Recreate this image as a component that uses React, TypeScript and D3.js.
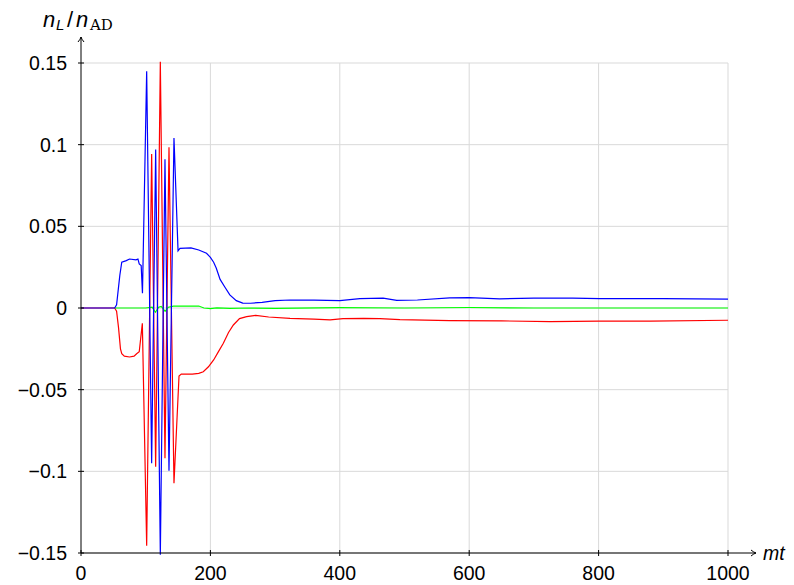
import React from "react";
import * as d3 from "d3";

const xTicks = [0, 200, 400, 600, 800, 1000];
const yTicks = [-0.15, -0.1, -0.05, 0, 0.05, 0.1, 0.15];

const blueT = [0, 52, 55, 60, 63, 70, 75, 85, 88, 90, 93, 95, 101.5, 109.2, 115.4, 122.6, 129.8, 136, 143.7, 150, 153, 170, 182, 194, 200, 205, 209, 212, 215, 222, 230, 240, 250, 262, 280, 300, 323, 360, 400, 431, 467, 488, 520, 570, 600, 647, 700, 760, 802, 900, 1000];
const blueV = [0, 0, 0.002, 0.02, 0.028, 0.029, 0.03, 0.0295, 0.03, 0.027, 0.026, 0.009, 0.145, -0.095, 0.097, -0.151, 0.091, -0.0996, 0.104, 0.035, 0.0365, 0.0368, 0.0355, 0.0335, 0.031, 0.028, 0.0245, 0.021, 0.0175, 0.013, 0.008, 0.0045, 0.003, 0.0029, 0.0035, 0.0045, 0.0049, 0.0048, 0.0045, 0.0057, 0.006, 0.0047, 0.0049, 0.0062, 0.0063, 0.0056, 0.0061, 0.006, 0.0058, 0.0057, 0.0054];

const redT = [0, 52, 55, 58, 61, 63, 67, 75, 82, 86, 90, 94.8, 101.5, 109.2, 115.4, 122.6, 129.8, 136, 143.7, 151.5, 155, 172, 182, 189, 197, 205, 212, 220, 228, 235.5, 245, 256, 270, 290, 323, 360, 385, 405, 437, 462, 493, 570, 650, 725, 800, 880, 1000];
const redV = [0, 0, -0.002, -0.012, -0.025, -0.028, -0.0295, -0.03, -0.0295, -0.028, -0.0268, -0.0094, -0.1455, 0.0943, -0.0972, 0.1508, -0.092, 0.0984, -0.1073, -0.0416, -0.0405, -0.0405, -0.04, -0.039, -0.036, -0.0318, -0.027, -0.0216, -0.015, -0.0104, -0.0065, -0.0053, -0.0045, -0.0055, -0.0063, -0.0068, -0.0073, -0.0065, -0.0063, -0.0065, -0.0071, -0.0077, -0.0079, -0.0083, -0.008, -0.008, -0.0075];

const greenT = [52, 100, 110, 115, 120, 124, 130, 135, 143, 150, 170, 182, 190, 200, 210, 230, 260, 300, 400, 500, 600, 700, 1000];
const greenV = [0, 0, 0.0005, -0.0026, 0.0005, 0.001, -0.002, 0.0005, 0.0012, 0.0012, 0.0012, 0.0012, 0, -0.0004, 0.0001, -0.0002, 0, -0.0002, 0.0002, 0, 0.0003, 0, 0];

const fmt = (v: number) => {
  if (v === 0) return "0";
  const s = String(Math.abs(v));
  return (v < 0 ? "\u2212" : "") + s;
};

export default function App() {
  const W = 794, H = 585;
  const x = d3.scaleLinear().domain([0, 1000]).range([81, 728]);
  const y = d3.scaleLinear().domain([-0.15, 0.15]).range([553, 63]);
  const line = d3.line<[number, number]>().x(d => x(d[0])).y(d => y(d[1]));
  const mk = (t: number[], v: number[]) => line(t.map((tt, i) => [tt, v[i]] as [number, number])) || "";
  const font = "'Liberation Sans', Arial, sans-serif";
  return (
    <svg width={W} height={H} style={{ position: "absolute", left: 0, top: 0, background: "#fff" }}>
      <g stroke="#d9d9d9" strokeWidth={1}>
        {xTicks.filter(t => t > 0).map(t => (
          <line key={"gx" + t} x1={x(t)} x2={x(t)} y1={y(-0.15)} y2={y(0.15)} />
        ))}
        {yTicks.map(t => (
          <line key={"gy" + t} x1={x(0)} x2={x(1000)} y1={y(t)} y2={y(t)} />
        ))}
      </g>
      <path d={mk(redT, redV)} fill="none" stroke="#ff0000" strokeWidth={1.2} />
      <path d={mk(greenT, greenV)} fill="none" stroke="#00ff00" strokeWidth={1.2} />
      <path d={mk(blueT, blueV)} fill="none" stroke="#0000ff" strokeWidth={1.2} />
      <g stroke="#000" strokeWidth={1} fill="none">
        <line x1={x(0)} x2={x(0)} y1={553} y2={37} />
        <path d={`M${x(0) - 3},${42} Q${x(0) - 0.5},${39} ${x(0)},${37} Q${x(0) + 0.5},${39} ${x(0) + 3},${42}`} />
        <line x1={x(0)} x2={756} y1={553} y2={553} />
        <path d={`M${751},${550} Q${754},${552.5} ${756},${553} Q${754},${553.5} ${751},${556}`} />
        {xTicks.map(t => (
          <line key={"tx" + t} x1={x(t)} x2={x(t)} y1={550} y2={556} />
        ))}
        {yTicks.map(t => (
          <line key={"ty" + t} x1={x(0) - 3} x2={x(0) + 3} y1={y(t)} y2={y(t)} />
        ))}
      </g>
      <g fontFamily={font} fontSize={19.5} fill="#000">
        {xTicks.map(t => (
          <text key={"lx" + t} x={x(t)} y={580} textAnchor="middle">{fmt(t)}</text>
        ))}
        {yTicks.map(t => (
          <text key={"ly" + t} x={67} y={y(t) + 7} textAnchor="end">{fmt(t)}</text>
        ))}
        <text x={763} y={560} fontStyle="italic">mt</text>
        <text fontSize={22}>
          <tspan x={43} y={26.5} fontStyle="italic">n</tspan>
          <tspan x={56} y={30} fontStyle="italic" fontSize={15}>L</tspan>
          <tspan x={67} y={26.5}>/</tspan>
          <tspan x={76} y={26.5} fontStyle="italic">n</tspan>
          <tspan x={90} y={29.5} fontFamily="'DejaVu Serif', 'Liberation Serif', serif" fontSize={15}>AD</tspan>
        </text>
      </g>
    </svg>
  );
}
